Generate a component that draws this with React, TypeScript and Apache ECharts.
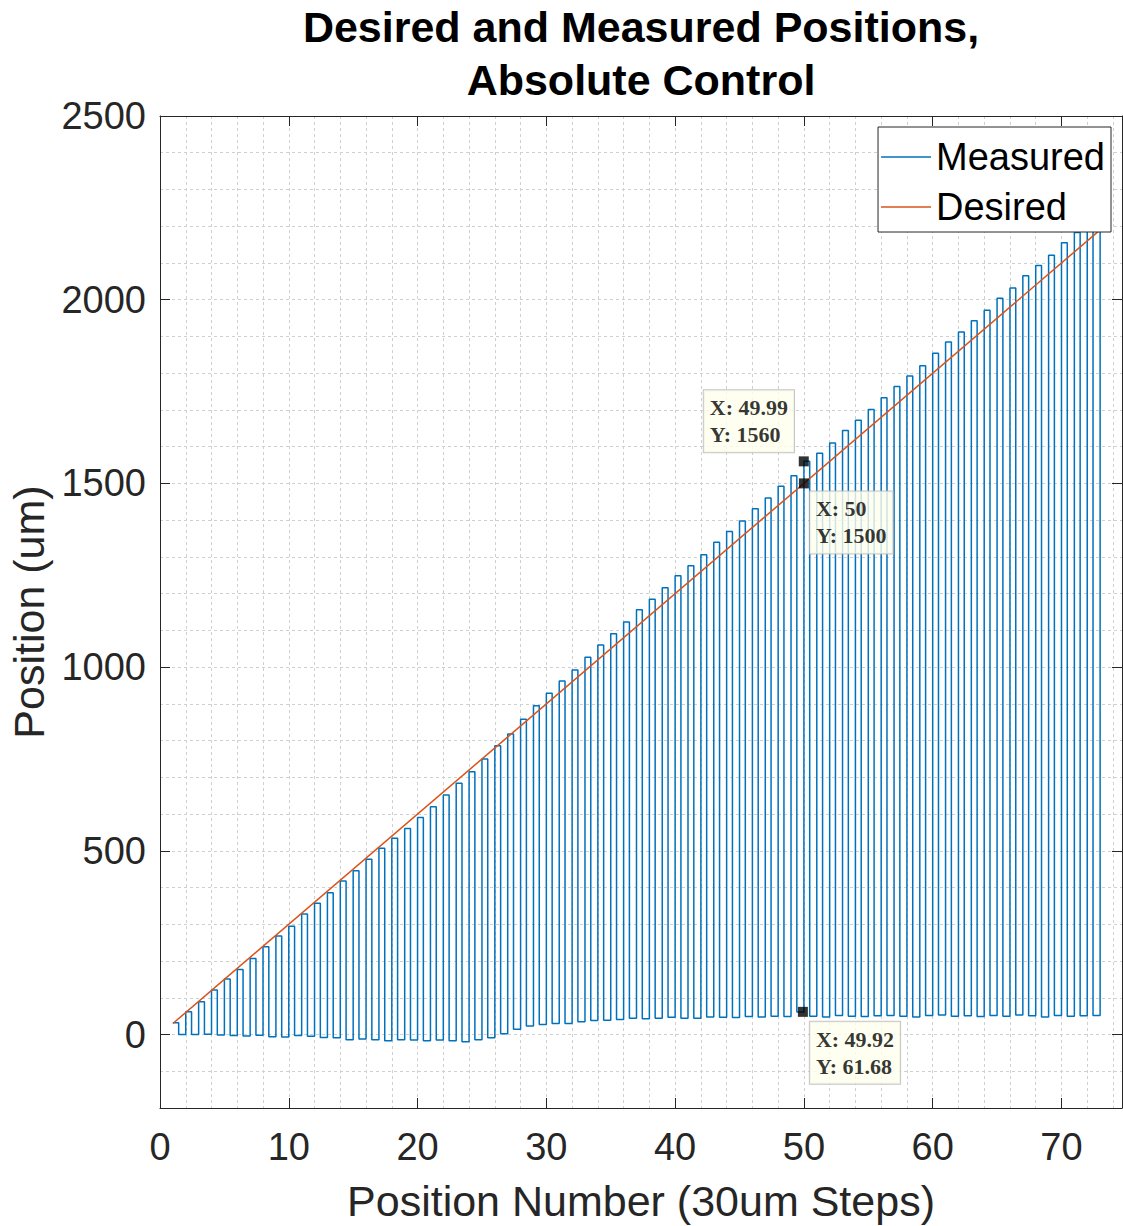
import React, { useEffect, useRef } from "react";
import * as echarts from "echarts";

// ---- data ----
const measuredPeaks = [
  32, 62, 89, 121, 151, 177, 207, 239, 268, 295,
  328, 357, 386, 418, 446, 477, 507, 534, 561, 591,
  620, 652, 684, 715, 750, 786, 818, 858, 895, 929,
  962, 992, 1027, 1060, 1091, 1123, 1156, 1185, 1216, 1249,
  1276, 1306, 1340, 1369, 1398, 1431, 1460, 1492, 1521, 1560,
  1582, 1610, 1644, 1672, 1701, 1733, 1764, 1792, 1820, 1854,
  1885, 1912, 1943, 1971, 2004, 2032, 2065, 2093, 2121, 2155,
  2183, 2211, 2243,
];
const measuredBases = [
  0, 0, 1, -1, -3, -4, -2, -6, -7, -3,
  -5, -8, -9, -14, -12, -14, -17, -14, -15, -17,
  -15, -17, -20, -14, -9, 2, 14, 23, 27, 30,
  30, 35, 38, 39, 41, 44, 43, 44, 47, 44,
  44, 48, 47, 46, 49, 48, 50, 49, 61, 50,
  48, 52, 50, 49, 51, 52, 50, 48, 52, 53,
  50, 51, 49, 52, 50, 53, 51, 48, 52, 50,
  51, 52,
];
const firstPosition = 1;
const holdFraction = 0.45;
const desiredX = [1, 73];
const desiredY = [30, 2190];
const xTicks = [0, 10, 20, 30, 40, 50, 60, 70];
const yTicks = [0, 500, 1000, 1500, 2000, 2500];
const tipX = [49.99, 50, 49.92];
const tipY = [1560, 1500, 61.68];

const SANS = "'Liberation Sans', Arial, Helvetica, sans-serif";
const SERIF = "'Liberation Serif', 'Times New Roman', serif";
const AXIS = "#262626";
const GRID = "#d0d0d0";

function buildMeasured(): number[][] {
  const pts: number[][] = [];
  measuredPeaks.forEach((p, i) => {
    const n = firstPosition + i;
    pts.push([n, p]);
    pts.push([n + holdFraction, p]);
    if (i < measuredBases.length) {
      pts.push([n + holdFraction, measuredBases[i]]);
      pts.push([n + 1, measuredBases[i]]);
    }
  });
  return pts;
}

const tipPlacement: [number, number, string][] = [
  [-95, -4, "bottom"],
  [11, 13, "top"],
  [12, 15, "top"],
];

export default function App() {
  const ref = useRef<HTMLDivElement>(null);
  useEffect(() => {
    document.body.style.margin = "0";
    if (!ref.current) return;
    const chart = echarts.init(ref.current, null, { renderer: "svg" });
    const XMIN = 0, XMAX = 74.7, YMIN = -200, YMAX = 2500;

    const xBase = {
      type: "value" as const,
      min: XMIN,
      max: XMAX,
      interval: 10,
      axisLine: { show: true, onZero: false, lineStyle: { color: AXIS, width: 1 } },
      axisTick: { show: true, inside: true, length: 10, customValues: xTicks, lineStyle: { color: AXIS } },
      splitLine: { show: false },
    };
    const yBase = {
      type: "value" as const,
      min: YMIN,
      max: YMAX,
      interval: 100,
      axisLine: { show: true, onZero: false, lineStyle: { color: AXIS, width: 1 } },
      axisTick: { show: true, inside: true, length: 10, customValues: yTicks, lineStyle: { color: AXIS } },
      splitLine: { show: false },
    };
    const gridLineStyle = { color: GRID, type: [3, 3], width: 1 };

    const option: any = {
      animation: false,
      backgroundColor: "#fff",
      grid: { left: 160, right: 1, top: 116, bottom: 118, containLabel: false, outerBoundsMode: "none" },
      graphic: [
        {
          type: "text",
          x: 641,
          y: 27,
          style: {
            text: "Desired and Measured Positions,",
            fill: "#000",
            font: `bold 43px ${SANS}`,
            textAlign: "center",
            textVerticalAlign: "middle",
            align: "center",
            verticalAlign: "middle",
          },
        },
        {
          type: "text",
          x: 641,
          y: 80,
          style: {
            text: "Absolute Control",
            fill: "#000",
            font: `bold 43px ${SANS}`,
            textAlign: "center",
            textVerticalAlign: "middle",
            align: "center",
            verticalAlign: "middle",
          },
        },
      ],
      legend: {
        data: ["Measured", "Desired"],
        orient: "vertical",
        right: 12,
        top: 127,
        padding: [8, 6, 3, 3],
        itemGap: 6,
        itemWidth: 50,
        itemHeight: 1.5,
        icon: "rect",
        borderColor: AXIS,
        borderWidth: 1,
        backgroundColor: "#fff",
        textStyle: { fontSize: 38, lineHeight: 44, color: "#000", fontFamily: SANS },
      },
      xAxis: [
        {
          ...xBase,
          position: "bottom",
          axisLabel: { customValues: xTicks, fontSize: 38, color: AXIS, margin: 20, fontFamily: SANS, formatter: (v: number) => String(v) },
          name: "Position Number (30um Steps)",
          nameLocation: "middle",
          nameGap: 71,
          nameTextStyle: { fontSize: 43, color: AXIS, fontFamily: SANS },
        },
        {
          ...xBase,
          position: "top",
          axisLabel: { show: false },
        },
        {
          type: "value",
          min: XMIN,
          max: XMAX,
          interval: 2,
          position: "bottom",
          axisLine: { show: false },
          axisTick: { show: false },
          axisLabel: { show: false },
          splitLine: { show: true, lineStyle: gridLineStyle },
          z: 0,
        },
      ],
      yAxis: [
        {
          ...yBase,
          position: "left",
          axisLabel: { customValues: yTicks, fontSize: 38, color: AXIS, margin: 14, fontFamily: SANS, formatter: (v: number) => String(v) },
          name: "Position (um)",
          nameLocation: "middle",
          nameGap: 93,
          nameTextStyle: { fontSize: 43, color: AXIS, fontFamily: SANS },
        },
        {
          ...yBase,
          position: "right",
          axisLabel: { show: false },
        },
        {
          type: "value",
          min: YMIN,
          max: YMAX,
          interval: 100,
          position: "left",
          axisLine: { show: false },
          axisTick: { show: false },
          axisLabel: { show: false },
          splitLine: { show: true, lineStyle: gridLineStyle },
          z: 0,
        },
      ],
      series: [
        {
          name: "Measured",
          type: "line",
          xAxisIndex: 0,
          yAxisIndex: 0,
          data: buildMeasured(),
          showSymbol: false,
          symbol: "none",
          lineStyle: { color: "#0072BD", width: 1.5 },
          itemStyle: { color: "#0072BD" },
          z: 2,
        },
        {
          name: "Desired",
          type: "line",
          xAxisIndex: 0,
          yAxisIndex: 0,
          data: desiredX.map((x, i) => [x, desiredY[i]]),
          showSymbol: false,
          symbol: "none",
          lineStyle: { color: "#D95319", width: 1.5 },
          itemStyle: { color: "#D95319" },
          z: 3,
        },
        {
          name: "tips",
          type: "scatter",
          xAxisIndex: 0,
          yAxisIndex: 0,
          symbol: "rect",
          symbolSize: 10,
          itemStyle: { color: "#000" },
          z: 10,
          data: tipX.map((x, i) => ({
            value: [x, tipY[i]],
            label: {
              show: true,
              formatter: `X: ${x}\nY: ${tipY[i]}`,
              position: [tipPlacement[i][0], tipPlacement[i][1]],
              align: "left",
              verticalAlign: tipPlacement[i][2],
              backgroundColor: "#ffffee",
              borderColor: "#b8b8b8",
              borderWidth: 1,
              padding: [4, 6, 4, 6],
              fontFamily: SERIF,
              fontWeight: "bold",
              fontSize: 22,
              lineHeight: 27,
              color: "#000",
            },
          })),
        },
      ],
    };
    chart.setOption(option);
    return () => chart.dispose();
  }, []);
  return <div ref={ref} style={{ width: 1123, height: 1226 }} />;
}
